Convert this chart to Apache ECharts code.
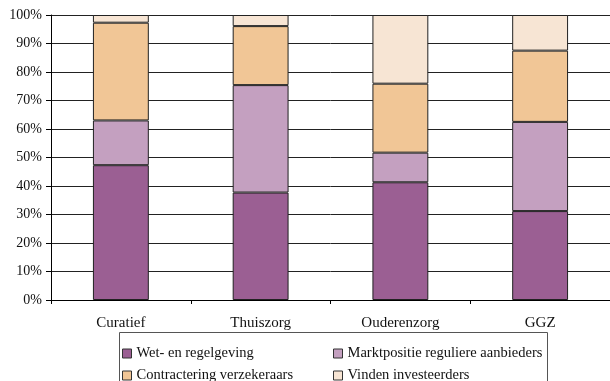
<!DOCTYPE html>
<html>
<head>
<meta charset="utf-8">
<script src="https://cdn.jsdelivr.net/npm/echarts@6/dist/echarts.min.js"></script>
<style>
  html, body { margin: 0; padding: 0; background: #fff; }
  #chart { width: 610px; height: 381px; }
</style>
</head>
<body>
<div id="chart"></div>
<script>
// Sectors along the x axis
const categories = ['Curatief', 'Thuiszorg', 'Ouderenzorg', 'GGZ'];

// Share (%) of each obstacle per sector, stacked to 100%
const wetRegelgeving = [47.3, 37.7, 41.3, 31.2];
const marktpositie = [15.7, 37.7, 10.4, 31.3];
const contractering = [34.3, 20.7, 24.2, 25.0];
const investeerders = [2.7, 3.9, 24.1, 12.5];

const seriesNames = [
  'Wet- en regelgeving',
  'Marktpositie reguliere aanbieders',
  'Contractering verzekeraars',
  'Vinden investeerders'
];
const seriesValues = [wetRegelgeving, marktpositie, contractering, investeerders];
const seriesColors = ['#9b5f93', '#c4a0c0', '#f1c696', '#f7e5d4'];

const yTicks = [0, 10, 20, 30, 40, 50, 60, 70, 80, 90, 100];

const font = '"Liberation Serif", "DejaVu Serif", serif';

const chart = echarts.init(document.getElementById('chart'), null, { renderer: 'canvas' });

// Legend laid out as a two-column grid inside a framed box
const legendPos = [
  { left: 122, top: 346 },
  { left: 333, top: 346 },
  { left: 122, top: 368 },
  { left: 333, top: 368 }
];

chart.setOption({
  animation: false,
  textStyle: { fontFamily: font },
  grid: { left: 51, right: -4, top: 15, bottom: 81 },
  xAxis: {
    type: 'category',
    data: categories,
    axisLine: { lineStyle: { color: '#000', width: 1 } },
    axisTick: { show: true, alignWithLabel: false, length: 4, lineStyle: { color: '#000' } },
    axisLabel: { color: '#111', fontFamily: font, fontSize: 15, margin: 16 }
  },
  yAxis: {
    type: 'value',
    min: 0,
    max: 100,
    interval: 10,
    axisLine: { show: true, lineStyle: { color: '#000', width: 1 } },
    axisTick: { show: true, length: 5, lineStyle: { color: '#000' } },
    axisLabel: {
      color: '#111', fontFamily: font, fontSize: 14, margin: 9,
      formatter: v => (yTicks.includes(v) ? v + '%' : '')
    },
    splitLine: { show: true, lineStyle: { color: '#222', width: 1 } }
  },
  legend: seriesNames.map((name, i) => ({
    data: [name],
    left: legendPos[i].left,
    top: legendPos[i].top,
    itemWidth: 9,
    itemHeight: 9,
    itemGap: 0,
    padding: 0,
    icon: 'rect',
    selectedMode: false,
    itemStyle: { borderColor: '#333', borderWidth: 1 },
    textStyle: { fontFamily: font, fontSize: 14.5, color: '#111' }
  })),
  graphic: [{
    type: 'rect',
    shape: { x: 119.5, y: 332.5, width: 428, height: 60 },
    style: { fill: 'none', stroke: '#555', lineWidth: 1 },
    silent: true,
    z: 0
  }],
  series: seriesNames.map((name, i) => ({
    name,
    type: 'bar',
    stack: 'total',
    barWidth: '40%',
    data: seriesValues[i],
    itemStyle: { color: seriesColors[i], borderColor: '#222', borderWidth: 1 },
    emphasis: { disabled: true }
  }))
});
</script>
</body>
</html>
